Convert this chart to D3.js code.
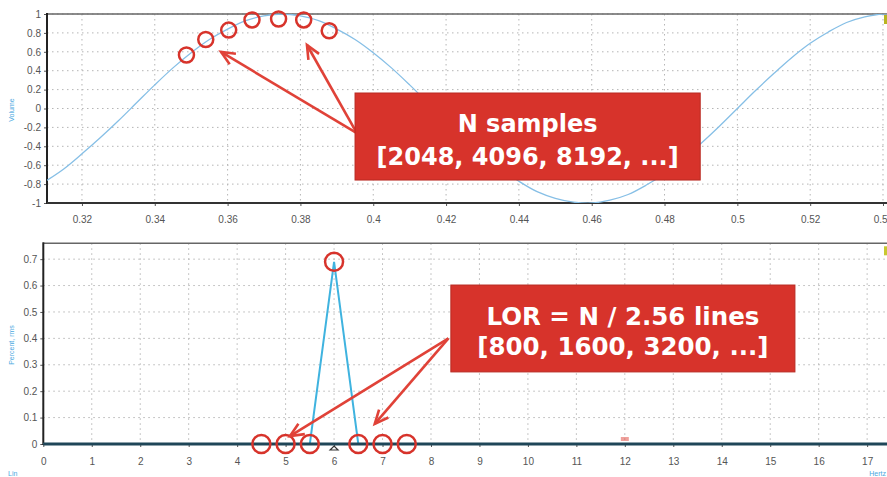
<!DOCTYPE html>
<html><head><meta charset="utf-8">
<script src="https://cdn.jsdelivr.net/npm/d3@7"></script>
<style>html,body{margin:0;padding:0;background:#fff;}svg{display:block;}</style>
</head><body>
<script>
// ---- data ----
const timeS = [0.310,0.315,0.320,0.325,0.330,0.335,0.340,0.345,0.350,0.355,0.360,0.365,0.370,0.375,0.380,0.385,0.390,0.395,0.400,0.405,0.410,0.415,0.420,0.425,0.430,0.435,0.440,0.445,0.450,0.455,0.460,0.465,0.470,0.475,0.480,0.485,0.490,0.495,0.500,0.505,0.510,0.515,0.520,0.525,0.530,0.535,0.540,0.545];
const amplitude = [-0.77,-0.64,-0.48,-0.31,-0.13,0.06,0.25,0.43,0.59,0.73,0.84,0.93,0.98,1.00,0.98,0.93,0.84,0.73,0.59,0.43,0.25,0.06,-0.13,-0.31,-0.48,-0.64,-0.77,-0.88,-0.95,-0.99,-1.00,-0.97,-0.91,-0.81,-0.69,-0.54,-0.37,-0.19,0.00,0.19,0.37,0.54,0.69,0.81,0.91,0.97,1.00,0.99];
const sampleTime = [0.3487,0.3540,0.3603,0.3667,0.3740,0.3809,0.3879];
const sampleValue = [0.566,0.73,0.83,0.937,0.947,0.937,0.823];

const freqHz = [0,0.5,1,1.5,2,2.5,3,3.5,4,4.5,5,5.5,6,6.5,7,7.5,8,8.5,9,9.5,10,10.5,11,11.5,12,12.5,13,13.5,14,14.5,15,15.5,16,16.5,17,17.5];
const spectrum = [0,0,0,0,0,0,0,0,0,0,0,0,0.69,0,0,0,0,0,0,0,0,0,0,0,0,0,0,0,0,0,0,0,0,0,0,0];
const lineFreq = [4.5,5,5.5,6,6.5,7,7.5];
const lineValue = [0,0,0,0.69,0,0,0];

const topXTicks = [0.32,0.34,0.36,0.38,0.40,0.42,0.44,0.46,0.48,0.50,0.52,0.54];
const topXLabels = ["0.32","0.34","0.36","0.38","0.4","0.42","0.44","0.46","0.48","0.5","0.52","0.54"];
const topYTicks = [-1,-0.8,-0.6,-0.4,-0.2,0,0.2,0.4,0.6,0.8,1];
const topYLabels = ["-1","-0.8","-0.6","-0.4","-0.2","0","0.2","0.4","0.6","0.8","1"];
const botXTicks = [0,1,2,3,4,5,6,7,8,9,10,11,12,13,14,15,16,17];
const botXLabels = ["0","1","2","3","4","5","6","7","8","9","10","11","12","13","14","15","16","17"];
const botYTicks = [0,0.1,0.2,0.3,0.4,0.5,0.6,0.7];
const botYLabels = ["0","0.1","0.2","0.3","0.4","0.5","0.6","0.7"];

const callout1 = ["N samples","[2048, 4096, 8192, ...]"];
const callout2 = ["LOR = N / 2.56 lines","[800, 1600, 3200, ...]"];

// ---- drawing ----
const W = 887, H = 477;
const svg = d3.select("body").append("svg").attr("width",W).attr("height",H);
svg.append("rect").attr("width",W).attr("height",H).attr("fill","#fff");
const defs = svg.append("defs");

const RED = "#d7332b", ARROW = "#e04238";
const tickFont = "'Liberation Sans', Arial, sans-serif";

function panel(x, y, xTicks, xLabels, yTicks, yLabels, id, xdy) {
  const [x0,x1] = x.range(), [y0,y1] = y.range(); // y0 bottom, y1 top
  defs.append("clipPath").attr("id",id).append("rect")
    .attr("x",x0).attr("y",y1).attr("width",x1-x0).attr("height",y0-y1);
  const g = svg.append("g");
  g.selectAll(".gv").data(xTicks).join("line")
    .attr("x1",d=>x(d)).attr("x2",d=>x(d)).attr("y1",y1).attr("y2",y0)
    .attr("stroke","#b5b5b5").attr("stroke-width",1).attr("stroke-dasharray","1.5,3.5");
  g.selectAll(".gh").data(yTicks).join("line")
    .attr("x1",x0).attr("x2",x1).attr("y1",d=>y(d)).attr("y2",d=>y(d))
    .attr("stroke","#b5b5b5").attr("stroke-width",1).attr("stroke-dasharray","1.5,3.5");
  const ax = g.append("g").attr("transform",`translate(0,${y0})`)
    .call(d3.axisBottom(x).tickValues(xTicks).tickSize(3).tickSizeOuter(0).tickFormat((d,i)=>xLabels[i]));
  const ay = g.append("g").attr("transform",`translate(${x0},0)`)
    .call(d3.axisLeft(y).tickValues(yTicks).tickSize(3).tickSizeOuter(0).tickFormat((d,i)=>yLabels[i]));
  [ax,ay].forEach(a=>{
    a.select(".domain").remove();
    a.selectAll("line").attr("stroke","#555");
    a.selectAll("text").attr("fill","#555").attr("font-size","10px").attr("font-family",tickFont);
  });
  ax.selectAll("text").attr("dy",xdy);
  g.append("line").attr("x1",x0).attr("x2",x1).attr("y1",y1).attr("y2",y1).attr("stroke","#666").attr("stroke-width",1.6);
  g.append("line").attr("x1",x0).attr("x2",x0).attr("y1",y1-1).attr("y2",y0+1).attr("stroke","#222").attr("stroke-width",2);
  g.append("line").attr("x1",x0).attr("x2",x1).attr("y1",y0).attr("y2",y0).attr("stroke","#333").attr("stroke-width",2);
  return g;
}

// top panel
const xT = d3.scaleLinear().domain([0.3104,0.5411]).range([47,887]);
const yT = d3.scaleLinear().domain([-1,1]).range([203,14]);
panel(xT,yT,topXTicks,topXLabels,topYTicks,topYLabels,"clipT","1.4em");
svg.append("path").datum(timeS.map((t,i)=>[t,amplitude[i]]))
  .attr("clip-path","url(#clipT)")
  .attr("d",d3.line().x(d=>xT(d[0])).y(d=>yT(d[1])).curve(d3.curveCatmullRom))
  .attr("fill","none").attr("stroke","#86bfe6").attr("stroke-width",1.3);
svg.append("g").selectAll("circle").data(sampleTime).join("circle")
  .attr("cx",d=>xT(d)).attr("cy",(d,i)=>yT(sampleValue[i])).attr("r",7.5)
  .attr("fill","none").attr("stroke",RED).attr("stroke-width",2.5);

// bottom panel
const xB = d3.scaleLinear().domain([0,17.41]).range([43.3,887]);
const yB = d3.scaleLinear().domain([0,0.76]).range([444,243.3]);
panel(xB,yB,botXTicks,botXLabels,botYTicks,botYLabels,"clipB","1.5em");
svg.append("path").datum(freqHz.map((f,i)=>[f,spectrum[i]]))
  .attr("clip-path","url(#clipB)")
  .attr("d",d3.line().x(d=>xB(d[0])).y(d=>yB(d[1])))
  .attr("fill","none").attr("stroke","#3fb3df").attr("stroke-width",2);
svg.append("line").attr("x1",xB(0)).attr("x2",W).attr("y1",yB(0)).attr("y2",yB(0))
  .attr("stroke","#1f4658").attr("stroke-width",3);
svg.append("g").selectAll("circle").data(lineFreq).join("circle")
  .attr("cx",d=>xB(d)).attr("cy",(d,i)=>yB(lineValue[i])).attr("r",9)
  .attr("fill","none").attr("stroke",RED).attr("stroke-width",2.5);

// small cursor marks
svg.append("path").attr("d",`M${xB(6)-4},${yB(0)+6}L${xB(6)},${yB(0)+2}L${xB(6)+4},${yB(0)+6}Z`)
  .attr("fill","none").attr("stroke","#333").attr("stroke-width",1.2);
svg.append("path").attr("d",`M${xB(12)-4},${yB(0)-4}h8M${xB(12)-4},${yB(0)-6}h8`)
  .attr("stroke","#e04238").attr("stroke-width",1.2);
svg.append("rect").attr("x",884).attr("y",yT(1)+1).attr("width",3).attr("height",9).attr("fill","#b8b520");
svg.append("rect").attr("x",884).attr("y",yB(0.76)+3).attr("width",3).attr("height",9).attr("fill","#c8c830");

// axis names (faint blue)
const axName = (x,y,rot,txt,anchor)=>svg.append("text").attr("x",x).attr("y",y)
  .attr("transform",rot?`rotate(-90,${x},${y})`:null).attr("text-anchor",anchor||"middle")
  .attr("font-size","7px").attr("font-family",tickFont).attr("fill","#4aa8e0").text(txt);
axName(14,110,true,"Volume");
axName(14,345,true,"Percent, rms");
axName(8,476,false,"Lin","start");
axName(886,476,false,"Hertz","end");

// callouts (positions in data coordinates)
function arrow(x1,y1,x2,y2){
  const a = Math.atan2(y2-y1,x2-x1), L=15, s=0.42;
  svg.append("line").attr("x1",x1).attr("y1",y1).attr("x2",x2).attr("y2",y2)
    .attr("stroke",ARROW).attr("stroke-width",2.6);
  svg.append("path").attr("d",`M${x2-L*Math.cos(a-s)},${y2-L*Math.sin(a-s)}L${x2},${y2}L${x2-L*Math.cos(a+s)},${y2-L*Math.sin(a+s)}`)
    .attr("fill","none").attr("stroke",ARROW).attr("stroke-width",2.6).attr("stroke-linejoin","miter");
}
function callout(x,y,box,lines,from,tips,fs,b1,b2){
  const bx0=x(box[0]), bx1=x(box[1]), by0=y(box[2]), by1=y(box[3]);
  tips.forEach(t=>arrow(x(from[0]),y(from[1]),x(t[0]),y(t[1])));
  svg.append("rect").attr("x",bx0).attr("y",by0).attr("width",bx1-bx0).attr("height",by1-by0)
    .attr("fill",RED).attr("stroke","#b92a22").attr("stroke-width",1);
  const cx=(bx0+bx1)/2;
  [b1,b2].forEach((b,i)=>svg.append("text").attr("x",cx).attr("y",by0+b).attr("text-anchor","middle")
    .attr("font-family","'DejaVu Sans', Verdana, sans-serif").attr("font-weight","bold")
    .attr("font-size",fs+"px").attr("fill","#fff").text(lines[i]));
}
callout(xT,yT,[0.3950,0.4898,0.164,-0.757],callout1,[0.3955,-0.26],[[0.3582,0.598],[0.3818,0.672]],24,39,72);
callout(xB,yB,[8.41,15.51,0.602,0.273],callout2,[8.36,0.40],[[5.09,0.03],[6.84,0.076]],24.5,40,70);
</script>
</body></html>
